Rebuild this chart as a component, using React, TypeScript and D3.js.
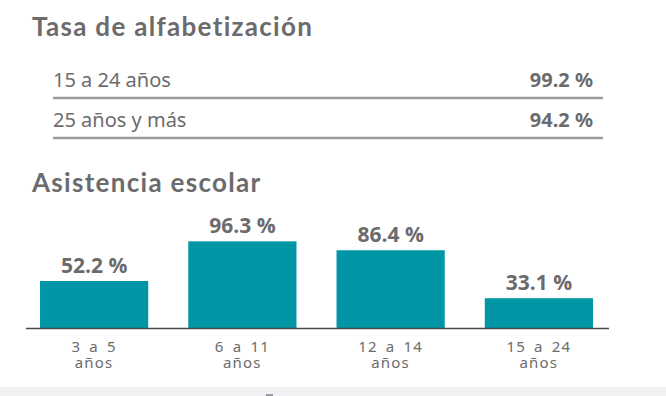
import { useEffect, useRef } from 'react'
import * as d3 from 'd3'

// literacy rows
const literacyLabels = ['15 a 24 años', '25 años y más']
const literacyValues = [99.2, 94.2]

// school attendance bars
const attendanceCats = [['3 a 5', 'años'], ['6 a 11', 'años'], ['12 a 14', 'años'], ['15 a 24', 'años']]
const attendanceValues = [52.2, 96.3, 86.4, 33.1]

const W = 666
const H = 396
const GREY = '#6b6b6d'
const TEAL = '#0096a6'

export default function App() {
  const svgRef = useRef<SVGSVGElement | null>(null)

  useEffect(() => {
    const svg = d3.select(svgRef.current)
    svg.selectAll('*').remove()

    svg.append('rect').attr('width', W).attr('height', H).attr('fill', '#fff')

    // bottom strip
    svg.append('rect')
      .attr('x', 0).attr('y', 387).attr('width', W).attr('height', H - 387)
      .attr('fill', '#f1f2f4')
    svg.append('rect')
      .attr('x', 266).attr('y', 394).attr('width', 7).attr('height', 2)
      .attr('fill', '#9a9aa0')

    const titleFont = 'Lato, "Open Sans", sans-serif'
    const bodyFont = '"Noto Sans", "Open Sans", sans-serif'

    // Section 1 title
    svg.append('text')
      .attr('x', 32).attr('y', 36)
      .style('font-family', titleFont).style('font-weight', 700).style('font-size', '26px')
      .style('letter-spacing', '1.3px')
      .attr('fill', GREY)
      .text('Tasa de alfabetización')

    const rowY = d3.scaleBand<number>()
      .domain(d3.range(literacyLabels.length))
      .range([60, 140])
      .paddingInner(0)

    const rows = svg.append('g')
    literacyLabels.forEach((lab, i) => {
      const y0 = rowY(i)!
      const base = y0 + 27
      rows.append('text')
        .attr('x', 53).attr('y', base)
        .style('font-family', bodyFont).style('font-size', '20px')
        .attr('fill', GREY)
        .text(lab)
      rows.append('text')
        .attr('x', 593).attr('y', base).attr('text-anchor', 'end')
        .style('font-family', bodyFont).style('font-weight', 700).style('font-size', '20px')
        .attr('fill', GREY)
        .text(`${literacyValues[i]} %`)
      rows.append('line')
        .attr('x1', 53).attr('x2', 603)
        .attr('y1', base + 11).attr('y2', base + 11)
        .attr('stroke', '#9b9b9b').attr('stroke-width', 2.5)
    })

    // Section 2 title
    svg.append('text')
      .attr('x', 32).attr('y', 192)
      .style('font-family', titleFont).style('font-weight', 700).style('font-size', '26px')
      .style('letter-spacing', '1.3px')
      .attr('fill', GREY)
      .text('Asistencia escolar')

    const baseY = 328
    const x = d3.scaleBand<number>()
      .domain(d3.range(attendanceValues.length))
      .range([20, 613])
      .paddingInner(0.27)
      .paddingOuter(0.135)
    const y = d3.scaleLinear().domain([0, 100]).range([baseY, baseY - 90])

    const g = svg.append('g')
    g.selectAll('rect.bar')
      .data(attendanceValues)
      .join('rect')
      .attr('class', 'bar')
      .attr('x', (_, i) => x(i)!)
      .attr('width', x.bandwidth())
      .attr('y', d => y(d))
      .attr('height', d => baseY - y(d))
      .attr('fill', TEAL)

    g.selectAll('text.val')
      .data(attendanceValues)
      .join('text')
      .attr('class', 'val')
      .attr('x', (_, i) => x(i)! + x.bandwidth() / 2)
      .attr('y', d => y(d) - 8)
      .attr('text-anchor', 'middle')
      .style('font-family', '"Open Sans", sans-serif').style('font-weight', 700).style('font-size', '21px')
      .attr('fill', GREY)
      .text(d => `${d} %`)

    // axis line
    g.append('line')
      .attr('x1', 26).attr('x2', 609)
      .attr('y1', baseY + 0.5).attr('y2', baseY + 0.5)
      .attr('stroke', '#4a4a4a').attr('stroke-width', 1.5)

    attendanceCats.forEach((lines, i) => {
      const cx = x(i)! + x.bandwidth() / 2
      lines.forEach((ln, j) => {
        g.append('text')
          .attr('x', cx)
          .attr('y', 352 + j * 16)
          .attr('text-anchor', 'middle')
          .style('font-family', bodyFont).style('font-size', '15px')
          .style('letter-spacing', '1.2px')
          .style('word-spacing', '3px')
          .attr('fill', GREY)
          .text(ln)
      })
    })
  }, [])

  return (
    <svg
      ref={svgRef}
      width={W}
      height={H}
      style={{ position: 'absolute', left: 0, top: 0 }}
    />
  )
}
